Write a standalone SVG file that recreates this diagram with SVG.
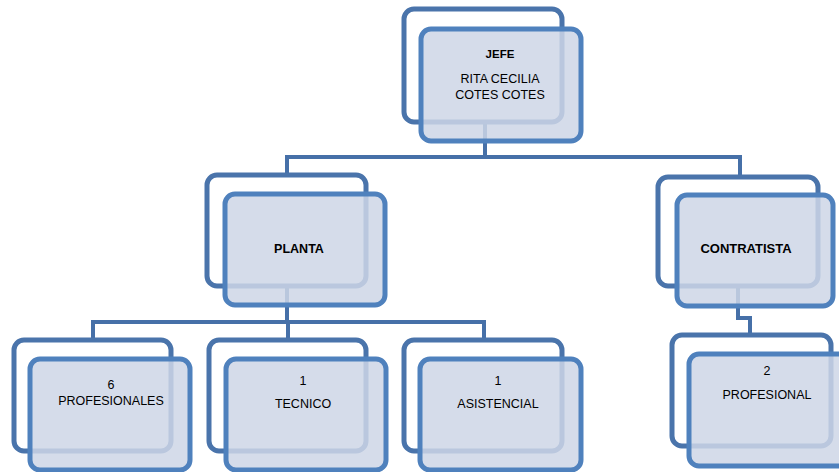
<svg xmlns="http://www.w3.org/2000/svg" width="839" height="472" viewBox="0 0 839 472">
<style>
.back{fill:#ffffff;stroke:#4a74ab;stroke-width:5}
.front{fill:#ced6e6;fill-opacity:0.85;stroke:#4f81bd;stroke-width:5}
.conn{fill:none;stroke:#4670a8;stroke-width:4}
text{font-family:"Liberation Sans",Arial,sans-serif;font-size:12.5px;fill:#000;text-anchor:middle}
.b{font-weight:bold}
</style>
<rect width="839" height="472" fill="#ffffff"/>
<g id="connectors">
<path class="conn" d="M485 124 V157 M287 175 V157 H740 V177"/>
<path class="conn" d="M287 288 V322 M93 340 V322 H484 V340 M288 322 V340"/>
<path class="conn" d="M738 288 V318 H750 V335"/>
</g>
<g id="jefe">
<rect class="back" x="404" y="9" width="158" height="113" rx="10"/>
<rect class="front" x="421" y="29" width="160" height="112" rx="10"/>
<text class="b" x="500" y="58" style="font-size:11.5px">JEFE</text>
<text x="500" y="83">RITA CECILIA</text>
<text x="500" y="99">COTES COTES</text>
</g>
<g id="planta">
<rect class="back" x="207" y="175" width="159" height="111" rx="10"/>
<rect class="front" x="225" y="194" width="160" height="111" rx="10"/>
<text class="b" x="299" y="253">PLANTA</text>
</g>
<g id="contratista">
<rect class="back" x="658" y="177" width="160" height="109" rx="10"/>
<rect class="front" x="677" y="195" width="156" height="111" rx="10"/>
<text class="b" x="746" y="253" style="font-size:13px">CONTRATISTA</text>
</g>
<g id="profesionales">
<rect class="back" x="14" y="340" width="157" height="111" rx="10"/>
<rect class="front" x="30" y="359" width="160" height="111" rx="10"/>
<text x="111" y="389">6</text>
<text x="111" y="405">PROFESIONALES</text>
</g>
<g id="tecnico">
<rect class="back" x="209" y="340" width="157" height="111" rx="10"/>
<rect class="front" x="226" y="359" width="160" height="111" rx="10"/>
<text x="303" y="385">1</text>
<text x="303" y="408">TECNICO</text>
</g>
<g id="asistencial">
<rect class="back" x="404" y="340" width="158" height="111" rx="10"/>
<rect class="front" x="420" y="359" width="161" height="111" rx="10"/>
<text x="498" y="385">1</text>
<text x="498" y="408">ASISTENCIAL</text>
</g>
<g id="profesional">
<rect class="back" x="672" y="335" width="159" height="111" rx="10"/>
<rect class="front" x="689" y="354" width="160" height="112" rx="10"/>
<text x="767" y="375">2</text>
<text x="767" y="399">PROFESIONAL</text>
</g>
</svg>
